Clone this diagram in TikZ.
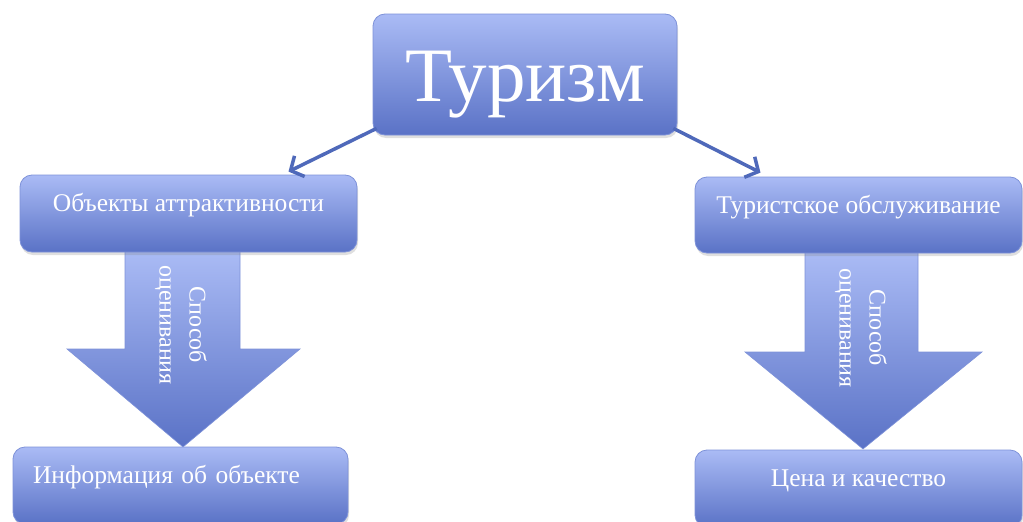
\documentclass[tikz,border=0pt]{standalone}
\usepackage{fontspec}
\setmainfont{Liberation Serif}
\usetikzlibrary{positioning,arrows.meta,shadows}

\definecolor{boxtop}{HTML}{AABBF5}
\definecolor{boxbottom}{HTML}{5A72C6}
\definecolor{boxline}{HTML}{7E92D9}
\definecolor{linkblue}{HTML}{4F69BA}

\tikzset{
  box/.style={draw=boxline, line width=0.8pt, rounded corners=12pt,
    top color=boxtop, bottom color=boxbottom, text=white, inner sep=0pt,
    font=\fontsize{25.5}{30}\selectfont, text height=17pt, text depth=21pt,
    drop shadow={shadow xshift=1pt, shadow yshift=-3pt, opacity=0.25}},
  link/.style={draw=linkblue, line width=3.5pt, -{Straight Barb[length=10pt,width=23pt]}},
  way/.style={draw=boxline, line width=0.6pt, top color=boxtop, bottom color=boxbottom},
  waytext/.style={rotate=-90, align=center, text=white, font=\fontsize{24}{30}\selectfont}
}

\begin{document}
\begin{tikzpicture}[x=1pt, y=-1pt]
\useasboundingbox (0,0) rectangle (1023,522);
\fill[white] (0,0) rectangle (1023,522);
\clip (0,0) rectangle (1023,522);

% big arrows between the levels
\path[way] (125,251) -- (240,251) -- (240,349) -- (300,349) -- (183,447) -- (67,349) -- (125,349) -- cycle;
\path[way] (805,252) -- (918,252) -- (918,352) -- (982,352) -- (863,449) -- (745,352) -- (805,352) -- cycle;
\node[waytext] (leftway) at (181,325) {Способ\\оценивания};
\node[waytext] (rightway) at (861,328) {Способ\\оценивания};

% boxes
\node[box, minimum width=304pt, minimum height=121pt, font=\fontsize{77}{80}\selectfont,
  text height=54pt, text depth=1pt] (tourism) at (525,74.5) {Туризм};
\node[box, minimum width=337pt, minimum height=77pt] (objects) at (188.5,213.5) {Объекты аттрактивности};
\node[box, minimum width=327pt, minimum height=76pt] (services) at (858.5,215) {Туристское обслуживание};
\node[box, minimum width=335pt, minimum height=77pt, text width=295pt, inner xsep=20pt,
  align=left] (info) at (180.5,485.5) {Информация об объекте};
\node[box, minimum width=327pt, minimum height=77pt] (quality) at (858.5,488.5) {Цена и качество};

\draw[link] ([xshift=4pt,yshift=7pt]tourism.south west) -- ([xshift=100pt,yshift=3pt]objects.north);
\draw[link] ([xshift=-4pt,yshift=7pt]tourism.south east) -- ([xshift=-98pt,yshift=4pt]services.north);
\end{tikzpicture}
\end{document}
